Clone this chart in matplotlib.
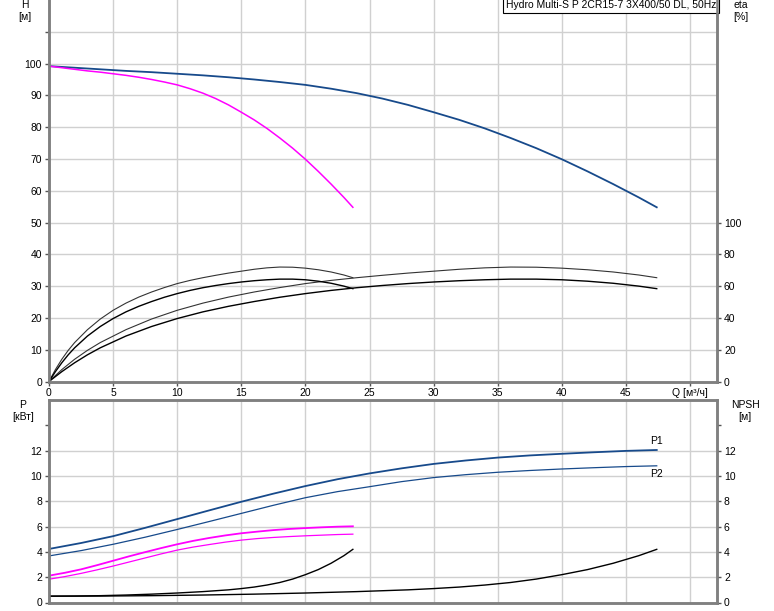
"""Pump curves: Hydro Multi-S P 2CR15-7 (head/efficiency on top, power/NPSH below)."""

import matplotlib
matplotlib.use('Agg')
import matplotlib.pyplot as plt

plt.rcParams['font.family'] = ['Liberation Sans', 'DejaVu Sans']
plt.rcParams['font.size'] = 7.5

TITLE = "Hydro Multi-S P 2CR15-7 3X400/50 DL, 50Hz"

# head (m), one pump running and two pumps in parallel
q_h1 = [0, 1, 2, 3, 4, 5, 6, 7, 8, 9, 10, 11, 12, 13, 14, 15, 16, 17, 18, 19,
        20, 21, 22, 23, 23.7]
h_1 = [99.2, 98.7, 98.2, 97.7, 97.3, 96.8, 96.3, 95.7, 95.0, 94.2, 93.3, 92.1,
       90.7, 89.0, 87.0, 84.7, 82.3, 79.6, 76.6, 73.4, 69.9, 66.1, 62.1, 57.9, 54.8]
q_h2 = [0, 2, 4, 6, 8, 10, 12, 14, 16, 18, 20, 22, 24, 26, 28, 30, 32, 34, 36, 38,
        40, 42, 44, 46, 47.4]
h_2 = [99.2, 98.7, 98.2, 97.7, 97.3, 96.8, 96.3, 95.7, 95.0, 94.2, 93.3, 92.1,
       90.7, 89.0, 87.0, 84.7, 82.3, 79.6, 76.6, 73.4, 69.9, 66.1, 62.1, 57.9, 54.8]

# efficiency (%)
q_eta1 = [0, 0.5, 1, 1.5, 2, 3, 4, 5, 6, 7, 8, 9, 10, 11, 12, 13, 14, 15, 16, 17,
          18, 19, 20, 21, 22, 23, 23.7]
eta1_hi = [0, 7.5, 14, 19.6, 24.5, 32.6, 39.3, 44.8, 49.3, 53.1, 56.3, 59.1, 61.6,
           63.6, 65.3, 66.8, 68.2, 69.4, 70.6, 71.5, 72, 71.9, 71.3, 70.3, 68.9,
           67, 65.3]
eta1_lo = [0, 6.2, 11.8, 16.8, 21.2, 28.6, 34.6, 39.6, 43.8, 47.3, 50.3, 53, 55.3,
           57.3, 59, 60.4, 61.6, 62.6, 63.4, 64, 64.4, 64.4, 64, 63.1, 61.8, 60,
           58.4]
q_eta2 = [0, 1, 2, 3, 4, 6, 8, 10, 12, 14, 16, 18, 20, 22, 24, 26, 28, 30, 32, 34,
          36, 38, 40, 42, 44, 46, 47.4]
eta2_hi = [0, 7.5, 14, 19.6, 24.5, 32.6, 39.3, 44.8, 49.3, 53.1, 56.3, 59.1, 61.6,
           63.6, 65.3, 66.8, 68.2, 69.4, 70.6, 71.5, 72, 71.9, 71.3, 70.3, 68.9,
           67, 65.3]
eta2_lo = [0, 6.2, 11.8, 16.8, 21.2, 28.6, 34.6, 39.6, 43.8, 47.3, 50.3, 53, 55.3,
           57.3, 59, 60.4, 61.6, 62.6, 63.4, 64, 64.4, 64.4, 64, 63.1, 61.8, 60,
           58.4]

# power (kW)
q_p1 = [0, 1.25, 2.5, 3.75, 5, 6.25, 7.5, 8.75, 10, 11.25, 12.5, 13.75, 15, 16.25,
        17.5, 18.75, 20, 21.25, 22.5, 23.7]
p1_1 = [2.12, 2.35, 2.62, 2.95, 3.3, 3.65, 3.98, 4.3, 4.6, 4.87, 5.1, 5.3, 5.47,
        5.6, 5.72, 5.81, 5.88, 5.94, 5.99, 6.02]
p2_1 = [1.84, 2.05, 2.3, 2.58, 2.88, 3.2, 3.52, 3.84, 4.14, 4.38, 4.58, 4.77, 4.93,
        5.05, 5.14, 5.21, 5.27, 5.32, 5.37, 5.4]
q_p2 = [0, 2.5, 5, 7.5, 10, 12.5, 15, 17.5, 20, 22.5, 25, 27.5, 30, 32.5, 35, 37.5,
        40, 42.5, 45, 47.4]
p1_2 = [4.23, 4.7, 5.24, 5.9, 6.59, 7.28, 7.96, 8.6, 9.2, 9.74, 10.2, 10.6, 10.95,
        11.22, 11.45, 11.62, 11.75, 11.87, 11.98, 12.05]
p2_2 = [3.68, 4.1, 4.6, 5.16, 5.77, 6.4, 7.04, 7.68, 8.28, 8.76, 9.15, 9.55, 9.87,
        10.1, 10.29, 10.43, 10.55, 10.65, 10.74, 10.8]

# NPSH (m)
q_n1 = [0, 2, 4, 6, 8, 10, 12, 14, 15, 16, 17, 18, 19, 20, 21, 22, 23, 23.7]
npsh_1 = [0.5, 0.51, 0.54, 0.59, 0.66, 0.75, 0.86, 1.0, 1.1, 1.22, 1.38, 1.58,
          1.85, 2.2, 2.6, 3.1, 3.7, 4.2]
q_n2 = [0, 4, 8, 12, 16, 20, 24, 28, 30, 32, 34, 36, 38, 40, 42, 44, 46, 47.4]
npsh_2 = [0.5, 0.51, 0.54, 0.59, 0.66, 0.75, 0.86, 1.0, 1.1, 1.22, 1.38, 1.58,
          1.85, 2.2, 2.6, 3.1, 3.7, 4.2]

q_ticks = list(range(0, 51, 5))
q_labels = [str(q) for q in q_ticks[:-1]] + ["Q [м³/ч]"]

BLUE = '#174a8b'
MAGENTA = '#ff00ff'
SPINE = '#808080'
GRID = '#d0d0d0'


def style_axes(ax, spines):
    for name, sp in ax.spines.items():
        sp.set_visible(name in spines)
        sp.set_color(SPINE)
        sp.set_linewidth(1.8)
    ax.tick_params(length=3, width=1, color='#555555', labelsize=7.5, pad=2)


fig = plt.figure(figsize=(7.74, 6.11), dpi=100)
ax_h = fig.add_axes([49 / 774, 1 - 381.5 / 611, 668 / 774, 381.5 / 611])
ax_p = fig.add_axes([49 / 774, 1 - 602.5 / 611, 668 / 774, 202.5 / 611])

# ---- top: head + efficiency ----
ax_h.set_xlim(0, 52.1)
ax_h.set_ylim(0, 120)
ax_h.set_xticks(q_ticks)
ax_h.set_xticklabels(q_labels)
ax_h.set_yticks(range(0, 111, 10))
ax_h.set_yticklabels([str(v) if v <= 100 else '' for v in range(0, 111, 10)])
ax_h.grid(True, color=GRID, lw=1)
ax_h.set_axisbelow(True)
style_axes(ax_h, ('left', 'bottom', 'right'))

ax_h.plot(q_h2, h_2, color=BLUE, lw=1.3)
ax_h.plot(q_h1, h_1, color=MAGENTA, lw=1.1)

ax_eta = ax_h.twinx()
ax_eta.set_ylim(0, 240)
ax_eta.set_yticks(range(0, 101, 20))
style_axes(ax_eta, ('left', 'bottom', 'right'))
for q, e in ((q_eta1, eta1_hi), (q_eta2, eta2_hi)):
    ax_eta.plot(q, e, color='#333333', lw=0.8)
for q, e in ((q_eta1, eta1_lo), (q_eta2, eta2_lo)):
    ax_eta.plot(q, e, color='black', lw=1.0)

ax_h.text(0.999, 0.999, TITLE, transform=ax_h.transAxes, ha='right', va='top',
          fontsize=7.5, zorder=5,
          bbox=dict(boxstyle='square,pad=0.25', fc='white', ec='black', lw=0.8))

# ---- bottom: power + NPSH ----
ax_p.set_xlim(0, 52.1)
ax_p.set_ylim(0, 16)
ax_p.set_xticks(q_ticks)
ax_p.tick_params(axis='x', labelbottom=False, length=0)
ax_p.set_yticks(range(0, 15, 2))
ax_p.set_yticklabels([str(v) if v <= 12 else '' for v in range(0, 15, 2)])
ax_p.grid(True, axis='x', color=GRID, lw=1)
for v in range(2, 13, 2):
    ax_p.axhline(v, color=GRID, lw=1, zorder=0)
ax_p.set_axisbelow(True)
style_axes(ax_p, ('left', 'bottom', 'right', 'top'))
ax_p.tick_params(axis='x', length=0)

ax_p.plot(q_p2, p1_2, color=BLUE, lw=1.3)
ax_p.plot(q_p2, p2_2, color=BLUE, lw=0.9)
ax_p.plot(q_p1, p1_1, color=MAGENTA, lw=1.3)
ax_p.plot(q_p1, p2_1, color=MAGENTA, lw=0.9)
ax_p.text(q_p2[-1], p1_2[-1] + 0.35, "P1", ha='center', va='bottom', fontsize=7.5)
ax_p.text(q_p2[-1], p2_2[-1] - 0.25, "P2", ha='center', va='top', fontsize=7.5)

ax_n = ax_p.twinx()
ax_n.set_ylim(0, 16)
ax_n.set_yticks(range(0, 15, 2))
ax_n.set_yticklabels([str(v) if v <= 12 else '' for v in range(0, 15, 2)])
style_axes(ax_n, ('left', 'bottom', 'right', 'top'))
ax_n.plot(q_n1, npsh_1, color='black', lw=1.0)
ax_n.plot(q_n2, npsh_2, color='black', lw=1.0)

# axis captions
fig.text(25 / 774, 1 - 11 / 611, "H\n[м]", ha='center', va='center', fontsize=7.5, linespacing=1.3)
fig.text(741 / 774, 1 - 11 / 611, "eta\n[%]", ha='center', va='center', fontsize=7.5, linespacing=1.3)
fig.text(23 / 774, 1 - 411 / 611, "P\n[кВт]", ha='center', va='center', fontsize=7.5, linespacing=1.3)
fig.text(745 / 774, 1 - 411 / 611, "NPSH\n[м]", ha='center', va='center', fontsize=7.5, linespacing=1.3)

fig.savefig('out.png', dpi=100)
